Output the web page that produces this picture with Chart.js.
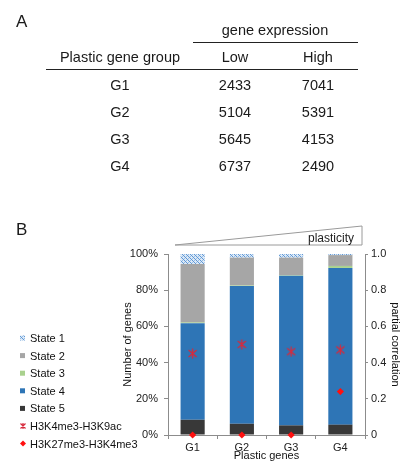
<!DOCTYPE html>
<html>
<head>
<meta charset="utf-8">
<script src="https://cdn.jsdelivr.net/npm/chart.js@4"></script>
<style>
  html, body { margin: 0; padding: 0; background: #fff; }
  #page { position: relative; width: 402px; height: 463px; overflow: hidden; font-family: "Liberation Sans", Arial, sans-serif; color: #1a1a1a; }
  #chartB { position: absolute; left: 0; top: 0; }
  .t { position: absolute; line-height: 1; white-space: nowrap; z-index: 2; }
  .rule { position: absolute; height: 0; border-top: 1.5px solid #222; z-index: 2; }
</style>
</head>
<body>
<div id="page">
  <canvas id="chartB" width="402" height="463"></canvas>
</div>
<script>
// panel A table
const groups = ['G1', 'G2', 'G3', 'G4'];
const lowExpr = [2433, 5104, 5645, 6737];
const highExpr = [7041, 5391, 4153, 2490];

// panel B, % of genes per chromatin state
const state1 = [5.5, 2.0, 2.0, 0.6];
const state2 = [32.3, 15.4, 9.7, 6.0];
const state3 = [0.4, 0.3, 0.3, 1.1];
const state4 = [53.4, 76.1, 82.7, 86.6];
const state5 = [8.4, 6.2, 5.3, 5.7];
// partial correlation
const h3k4me3_h3k9ac = [0.45, 0.50, 0.46, 0.47];
const h3k27me3_h3k4me3 = [0, 0, 0, 0.24];

const page = document.getElementById('page');
function txt(s, x, baseline, size, center) {
    const d = document.createElement('div');
    d.className = 't';
    d.textContent = s;
    d.style.fontSize = size + 'px';
    d.style.left = x + 'px';
    d.style.top = (baseline - size * 0.8465) + 'px';
    if (center) d.style.transform = 'translateX(-50%)';
    page.appendChild(d);
}
function rule(x1, x2, y) {
    const d = document.createElement('div');
    d.className = 'rule';
    d.style.left = x1 + 'px';
    d.style.width = (x2 - x1) + 'px';
    d.style.top = (y - 0.75) + 'px';
    page.appendChild(d);
}

txt('A', 16, 27, 17, false);
txt('B', 16, 235, 17, false);
txt('gene expression', 275, 35, 14.5, true);
rule(193, 358, 43);
txt('Plastic gene group', 120, 62, 14.5, true);
txt('Low', 235, 62, 14.5, true);
txt('High', 318, 62, 14.5, true);
rule(46, 358, 70);
groups.forEach((g, i) => {
    const b = 90 + i * 27;
    txt(g, 120, b, 14.5, true);
    txt(String(lowExpr[i]), 235, b, 14.5, true);
    txt(String(highExpr[i]), 318, b, 14.5, true);
});

// hatch for state 1
const pc = document.createElement('canvas');
pc.width = 4; pc.height = 4;
const pctx = pc.getContext('2d');
pctx.fillStyle = '#dbe8f6';
pctx.fillRect(0, 0, 4, 4);
for (let x = 0; x < 4; x++) {
    for (let y = 0; y < 4; y++) {
        if ((x - y + 4) % 4 === 0) {
            pctx.fillStyle = '#5f98d6';
            pctx.fillRect(x, y, 1, 1);
        } else if ((x + y) % 4 === 2) {
            pctx.fillStyle = '#95bde6';
            pctx.fillRect(x, y, 1, 1);
        }
    }
}
const hatch = pctx.createPattern(pc, 'repeat');

// asterisk marker
const starRed = '#d62a3c';
const mk = document.createElement('canvas');
mk.width = 11; mk.height = 11;
const mctx = mk.getContext('2d');
mctx.strokeStyle = starRed;
mctx.lineWidth = 1.3;
mctx.beginPath();
mctx.moveTo(1.5, 2); mctx.lineTo(9.5, 9);
mctx.moveTo(9.5, 2); mctx.lineTo(1.5, 9);
mctx.moveTo(5.5, 0.5); mctx.lineTo(5.5, 10.5);
mctx.stroke();

Chart.defaults.font.family = '"Liberation Sans", Arial, sans-serif';
Chart.defaults.font.size = 11;
Chart.defaults.color = '#222';

const axisGray = '#8c8c8c';

const decorations = {
    id: 'decorations',
    afterDraw(chart) {
        const c = chart.ctx;
        const a = chart.chartArea;
        c.save();
        // plasticity wedge
        c.strokeStyle = '#9a9a9a';
        c.lineWidth = 1;
        c.beginPath();
        c.moveTo(a.left + 7, a.top - 9);
        c.lineTo(a.right - 3, a.top - 28);
        c.lineTo(a.right - 3, a.top - 9);
        c.closePath();
        c.stroke();
        c.fillStyle = '#222';
        c.font = '12px "Liberation Sans", Arial, sans-serif';
        c.textAlign = 'right';
        c.textBaseline = 'alphabetic';
        c.fillText('plasticity', a.right - 11, a.top - 12);

        // legend
        const ds = chart.data.datasets;
        const items = [ds[4], ds[3], ds[2], ds[1], ds[0], ds[5], ds[6]];
        c.font = '11px "Liberation Sans", Arial, sans-serif';
        c.textAlign = 'left';
        items.forEach((d, i) => {
            const base = 342 + i * 17.6;
            const cy = base - 4;
            if (d.type === 'line') {
                if (d.pointStyle === 'rectRot') {
                    c.fillStyle = d.pointBackgroundColor;
                    c.beginPath();
                    c.moveTo(23, cy - 3); c.lineTo(26, cy); c.lineTo(23, cy + 3); c.lineTo(20, cy);
                    c.closePath();
                    c.fill();
                } else {
                    c.strokeStyle = starRed;
                    c.lineWidth = 1.2;
                    c.beginPath();
                    c.moveTo(20.5, cy - 2.5); c.lineTo(25.5, cy + 2.5);
                    c.moveTo(25.5, cy - 2.5); c.lineTo(20.5, cy + 2.5);
                    c.moveTo(23, cy - 3); c.lineTo(23, cy + 3);
                    c.stroke();
                }
            } else {
                c.fillStyle = d.backgroundColor;
                c.fillRect(20, cy - 2.5, 5, 5);
            }
            c.fillStyle = '#111';
            c.fillText(d.label, 30, base);
        });
        c.restore();
    }
};

const ctx = document.getElementById('chartB');
const chartB = new Chart(ctx, {
    type: 'bar',
    data: {
        labels: groups,
        datasets: [
            { label: 'State 5', data: state5, backgroundColor: '#383838', order: 2 },
            { label: 'State 4', data: state4, backgroundColor: '#2e75b6', order: 2 },
            { label: 'State 3', data: state3, backgroundColor: '#a9d18e', order: 2 },
            { label: 'State 2', data: state2, backgroundColor: '#a6a6a6', order: 2 },
            { label: 'State 1', data: state1, backgroundColor: hatch, order: 2 },
            {
                type: 'line', label: 'H3K4me3-H3K9ac', data: h3k4me3_h3k9ac, yAxisID: 'y1',
                showLine: false, pointStyle: mk, pointRadius: 5, order: 0, clip: false
            },
            {
                type: 'line', label: 'H3K27me3-H3K4me3', data: h3k27me3_h3k4me3, yAxisID: 'y1',
                showLine: false, pointStyle: 'rectRot', pointRadius: 3.6, pointBorderWidth: 0,
                pointBackgroundColor: '#ff1010', pointBorderColor: '#ff1010', order: 0, clip: false
            }
        ]
    },
    options: {
        responsive: false,
        animation: false,
        layout: { padding: { left: 121, top: 254, right: 0, bottom: 0 } },
        datasets: { bar: { categoryPercentage: 1, barPercentage: 0.49 } },
        plugins: { legend: { display: false }, tooltip: { enabled: false } },
        scales: {
            x: {
                stacked: true,
                grid: { drawOnChartArea: false, tickLength: 4, color: axisGray },
                border: { color: axisGray },
                ticks: { padding: 2, color: '#222' },
                title: { display: true, text: 'Plastic genes', padding: 0, color: '#111' },
                afterFit(s) { s.height = 28; }
            },
            y: {
                stacked: true,
                min: 0,
                max: 100,
                ticks: { stepSize: 20, padding: 6, callback: v => v + '%', color: '#222' },
                grid: { drawOnChartArea: false, tickLength: 4, color: axisGray },
                border: { color: axisGray },
                title: { display: true, text: 'Number of genes', padding: 0, color: '#111' },
                afterFit(s) { s.width = 47; }
            },
            y1: {
                position: 'right',
                min: 0,
                max: 1,
                ticks: { stepSize: 0.2, padding: 3, color: '#222' },
                grid: { drawOnChartArea: false, tickLength: 3, color: axisGray },
                border: { color: axisGray },
                title: { display: true, text: 'partial correlation', padding: 0, color: '#111' },
                afterFit(s) { s.width = 37; }
            }
        }
    },
    plugins: [decorations]
});
</script>
</body>
</html>
